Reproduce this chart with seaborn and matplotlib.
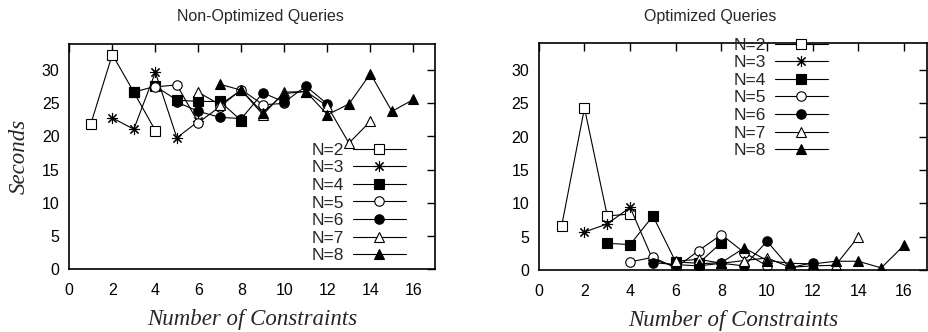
import numpy as np
import pandas as pd
import matplotlib
matplotlib.use("Agg")
import matplotlib.pyplot as plt
import seaborn as sns

# series N=k covers x = k-1 .. 2k
n_values = [2, 3, 4, 5, 6, 7, 8]

non_opt = {
    2: [21.9, 32.4, 26.7, 20.9],
    3: [22.8, 21.1, 29.7, 19.8, 22.3],
    4: [26.7, 27.6, 25.5, 25.3, 25.3, 22.4],
    5: [27.5, 27.8, 22.1, 24.5, 27.1, 24.8, 25.0],
    6: [25.2, 23.8, 22.9, 22.7, 26.6, 25.2, 27.6, 24.9],
    7: [26.7, 24.8, 27.0, 23.3, 26.7, 26.8, 24.6, 19.0, 22.3],
    8: [27.9, 27.0, 23.6, 26.5, 26.8, 23.3, 24.9, 29.5, 23.8, 25.6],
}

opt = {
    2: [6.6, 24.3, 8.1, 8.4],
    3: [5.7, 6.9, 9.4, 1.5, 0.6],
    4: [4.0, 3.8, 8.1, 1.2, 1.0, 4.1],
    5: [1.2, 1.9, 0.3, 2.9, 5.3, 2.6, 0.6],
    6: [1.1, 0.8, 0.6, 1.0, 0.6, 4.3, 0.3, 1.1],
    7: [1.3, 1.6, 1.0, 1.4, 1.8, 0.4, 0.6, 0.7, 5.0],
    8: [0.9, 1.1, 3.3, 1.4, 1.0, 0.9, 1.3, 1.3, 0.3, 3.7],
}

titles = ["Non-Optimized Queries", "Optimized Queries"]

markers = {2: "s", 3: (8, 2, 0), 4: "s", 5: "o", 6: "o", 7: "^", 8: "^"}
filled = {2: False, 3: True, 4: True, 5: False, 6: True, 7: False, 8: True}


def to_frame(d):
    rows = []
    for n in n_values:
        for i, v in enumerate(d[n]):
            rows.append({"N": n, "x": n - 1 + i, "sec": v})
    return pd.DataFrame(rows)


sns.set_theme(style="white")
plt.rcParams["font.family"] = ["Liberation Sans", "DejaVu Sans"]

fig = plt.figure(figsize=(9.29, 3.32), dpi=100)
ax1 = fig.add_axes([0.0746, 0.1907, 0.3936, 0.677])
ax2 = fig.add_axes([0.580, 0.187, 0.4177, 0.682])

for ax, data, title in zip([ax1, ax2], [non_opt, opt], titles):
    df = to_frame(data)
    for n in n_values:
        sub = df[df["N"] == n]
        sns.lineplot(data=sub, x="x", y="sec", ax=ax, color="black",
                     linewidth=0.8, marker=markers[n],
                     markersize=8 if n == 3 else 6.8,
                     markeredgewidth=0.8, markeredgecolor="black",
                     markerfacecolor="black" if filled[n] else "white",
                     label="N=%d" % n)
    ax.set_xlim(0, 17)
    ax.set_ylim(0, 34)
    ax.set_xticks(range(0, 17, 2))
    ax.set_yticks(range(0, 31, 5))
    ax.tick_params(direction="in", length=6, width=1, labelsize=11.5,
                   top=True, right=True, colors="black")
    ax.tick_params(axis="x", pad=10)
    ax.tick_params(axis="y", pad=7)
    for s in ax.spines.values():
        s.set_linewidth(1.2)
        s.set_color("black")
    ax.set_xlabel("Number of Constraints", family="Liberation Serif",
                  style="italic", fontsize=16.5, labelpad=8)
    ax.set_ylabel("")

ax1.set_ylabel("Seconds", family="Liberation Serif", style="italic",
               fontsize=16.5, labelpad=9)

leg_kw = dict(frameon=False, markerfirst=False, fontsize=12.5,
              handlelength=3.1, labelspacing=0.14, borderpad=0.2,
              handletextpad=0.5)
ax1.legend(loc="lower right", bbox_to_anchor=(0.955, -0.03), **leg_kw)
ax2.legend(loc="upper left", bbox_to_anchor=(0.47, 1.08), **leg_kw)

fig.text(260 / 929, 1 - 16 / 332, titles[0], ha="center", va="center",
         fontsize=11.5)
fig.text(710 / 929, 1 - 16 / 332, titles[1], ha="center", va="center",
         fontsize=11.5)

fig.savefig("out.png", dpi=100)
